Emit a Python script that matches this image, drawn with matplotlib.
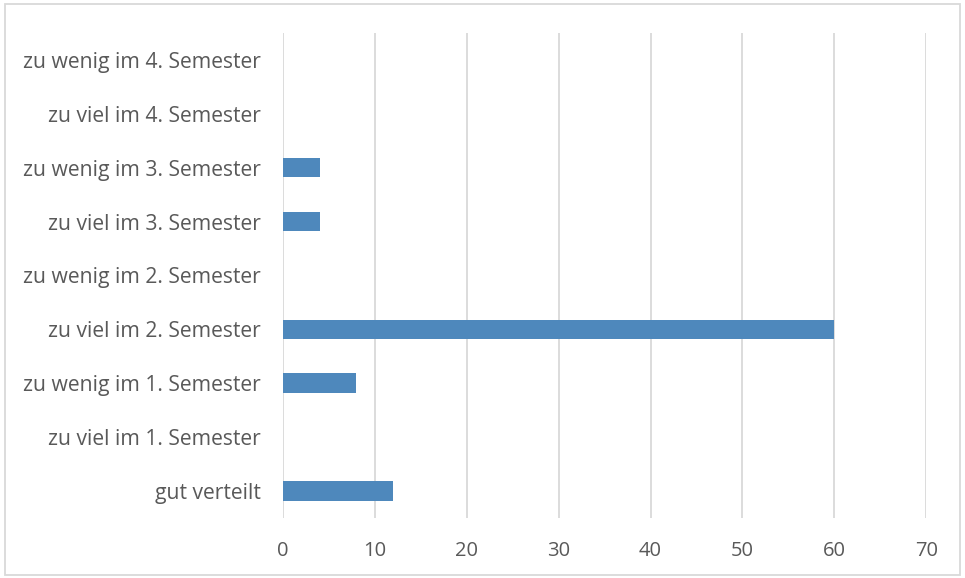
import matplotlib.pyplot as plt
from matplotlib.patches import Rectangle

# Kategorien (von unten nach oben) und Werte
kategorien = ["gut verteilt", "zu viel im 1. Semester", "zu wenig im 1. Semester",
              "zu viel im 2. Semester", "zu wenig im 2. Semester",
              "zu viel im 3. Semester", "zu wenig im 3. Semester",
              "zu viel im 4. Semester", "zu wenig im 4. Semester"]
werte = [12, 0, 8, 60, 0, 4, 4, 0, 0]
x_ticks = [0, 10, 20, 30, 40, 50, 60, 70]

plt.rcParams['font.family'] = ['Open Sans', 'DejaVu Sans']
text_farbe = "#595959"

fig = plt.figure(figsize=(9.65, 5.78), dpi=100)
ax = fig.add_axes([0.293, 0.104, 0.667, 0.839])

ax.barh(range(len(kategorien)), werte, height=0.36, color="#4E88BC", zorder=3)

ax.set_xlim(0, 70)
ax.set_ylim(-0.5, len(kategorien) - 0.5)
ax.set_xticks(x_ticks)
ax.set_yticks(range(len(kategorien)))
ax.set_yticklabels(kategorien)
ax.grid(axis="x", color="#D9D9D9", linewidth=1.3, zorder=0)
ax.tick_params(axis="both", length=0, labelsize=14.5, colors=text_farbe)
ax.tick_params(axis="y", labelsize=15.2, pad=16)
ax.tick_params(axis="x", pad=17)
for s in ax.spines.values():
    s.set_visible(False)

# Rahmen um das Diagramm
fig.patches.append(Rectangle((0.005, 0.005), 0.99, 0.988, transform=fig.transFigure,
                             fill=False, edgecolor="#D9D9D9", linewidth=1.3))

fig.savefig("out.png", dpi=100)
